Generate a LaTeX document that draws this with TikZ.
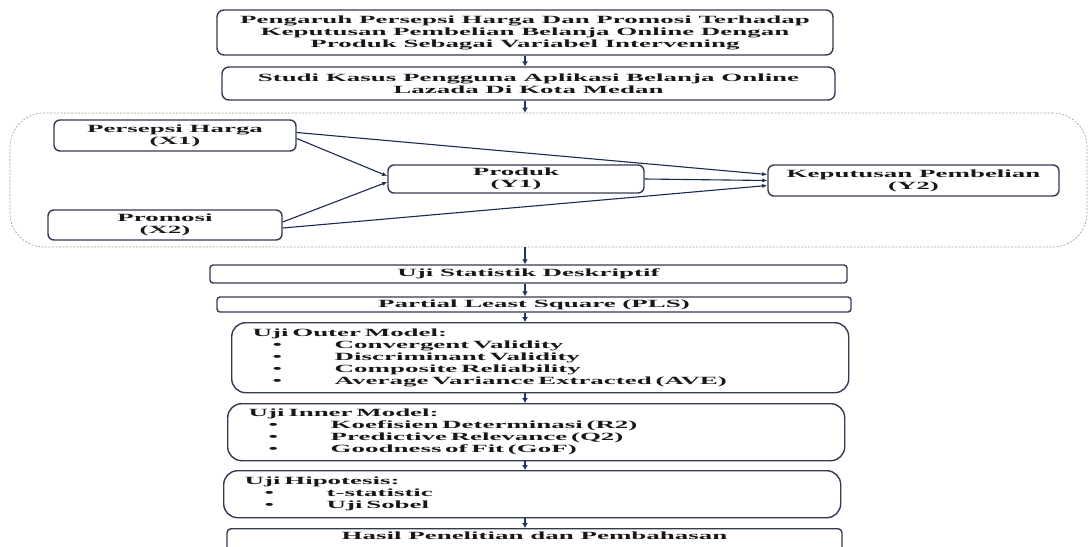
\documentclass[tikz,border=0pt]{standalone}
\usepackage{fontspec}
\setmainfont{Liberation Serif}[FakeStretch=2.45]
\usetikzlibrary{arrows.meta}

\definecolor{garis}{RGB}{52,58,80}
\definecolor{panahbiru}{RGB}{34,50,100}
\definecolor{teks}{RGB}{24,24,28}

% one bullet line inside a list box
\newcommand{\butir}[1]{\hspace*{20pt}\makebox[62pt][l]{\textbullet}#1}

\begin{document}
\begin{tikzpicture}[x=1pt,y=-1pt]
\tikzstyle{kotak}=[draw=garis, line width=1.4pt, rounded corners=7pt, align=center, inner sep=0pt, text=teks, font=\fontsize{11}{12}\selectfont\bfseries]
\tikzstyle{daftar}=[kotak, rounded corners=14pt, align=left, anchor=north west, inner xsep=21pt, inner ysep=4pt, minimum width=617, text width=575]
\tikzstyle{wilayah}=[draw=gray!70, line width=0.7pt, dash pattern=on 2pt off 1.5pt, rounded corners=34pt]
\tikzstyle{panah}=[-{Latex[length=5pt,width=6pt]}, draw=panahbiru, line width=1.7pt]
\tikzstyle{hubung}=[-{Latex[length=5pt,width=4pt]}, draw=panahbiru!80!black, line width=1.1pt]

\useasboundingbox (0,0) rectangle (1089,546);
\fill[white] (0,0) rectangle (1089,546);

% judul dan studi kasus
\draw (525,32.5) node[kotak, minimum width=616, minimum height=45] (judul) {Pengaruh Persepsi Harga Dan Promosi Terhadap\\Keputusan Pembelian Belanja Online Dengan\\Produk Sebagai Variabel Intervening};
\draw (528.5,83.5) node[kotak, minimum width=613, minimum height=33] (studi) {Studi Kasus Pengguna Aplikasi Belanja Online\\Lazada Di Kota Medan};

% model penelitian
\draw (548.5,180) node[wilayah, minimum width=1077, minimum height=134] (model) {};
\draw (175,135.5) node[kotak, rounded corners=6pt, minimum width=242, minimum height=31] (persepsi) {Persepsi Harga\\(X1)};
\draw (165,225) node[kotak, rounded corners=6pt, minimum width=234, minimum height=30] (promosi) {Promosi\\(X2)};
\draw (516,179) node[kotak, rounded corners=6pt, minimum width=256, minimum height=28] (produk) {Produk\\(Y1)};
\draw (913.5,180.5) node[kotak, rounded corners=6pt, minimum width=291, minimum height=31] (keputusan) {Keputusan Pembelian\\(Y2)};

\draw[hubung] ([yshift=3pt]persepsi.east) -- ([yshift=6pt]keputusan.west);
\draw[hubung] ([yshift=-3pt]persepsi.east) -- ([yshift=3pt]produk.west);
\draw[hubung] ([yshift=3pt]promosi.east) -- ([yshift=-3pt]produk.west);
\draw[hubung] ([yshift=-3pt]promosi.east) -- ([yshift=-5pt]keputusan.west);
\draw[hubung] (produk.east) -- (keputusan.west);

% tahap analisis
\draw (528.5,274) node[kotak, rounded corners=3pt, minimum width=637, minimum height=18] (deskriptif) {Uji Statistik Deskriptif};
\draw (534,304.5) node[kotak, rounded corners=3pt, minimum width=634, minimum height=15] (pls) {Partial Least Square (PLS)};
\draw (231,322) node[daftar, minimum height=70] (outer) {Uji Outer Model:\\\butir{Convergent Validity}\\\butir{Discriminant Validity}\\\butir{Composite Reliability}\\\butir{Average Variance Extracted (AVE)}};
\draw (227,403) node[daftar, minimum height=57] (inner) {Uji Inner Model:\\\butir{Koefisien Determinasi (R2)}\\\butir{Predictive Relevance (Q2)}\\\butir{Goodness of Fit (GoF)}};
\draw (223,470) node[daftar, minimum height=47] (hipotesis) {Uji Hipotesis:\\\butir{t-statistic}\\\butir{Uji Sobel}};
\draw (534.5,528) node[kotak, rounded corners=4pt, anchor=north, minimum width=615, inner ysep=3pt, text depth=24pt] (hasil) {Hasil Penelitian dan Pembahasan};

% panah alur
\draw[panah] (judul.south) -- (judul.south |- studi.north);
\draw[panah] (judul.south |- studi.south) -- (judul.south |- model.north);
\draw[panah] (judul.south |- model.south) -- (judul.south |- deskriptif.north);
\draw[panah] (judul.south |- deskriptif.south) -- (judul.south |- pls.north);
\draw[panah] (judul.south |- pls.south) -- (judul.south |- outer.north);
\draw[panah] (judul.south |- outer.south) -- (judul.south |- inner.north);
\draw[panah] (judul.south |- inner.south) -- (judul.south |- hipotesis.north);
\draw[panah] (judul.south |- hipotesis.south) -- (judul.south |- hasil.north);
\end{tikzpicture}
\end{document}
